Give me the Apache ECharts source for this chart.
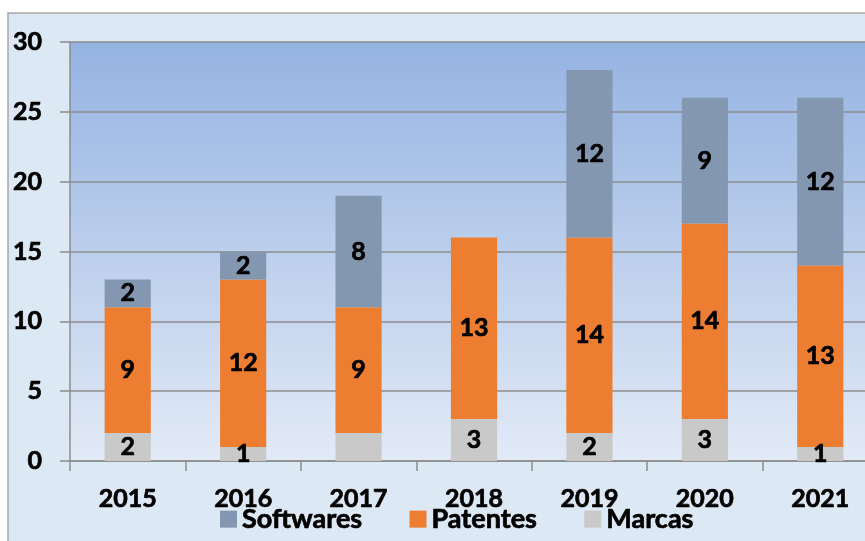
<!DOCTYPE html>
<html>
<head>
<meta charset="utf-8">
<script src="https://cdn.jsdelivr.net/npm/echarts@6/dist/echarts.min.js"></script>
<style>
html, body { margin: 0; padding: 0; background: #fff; overflow: hidden; }
#barChart { width: 880px; height: 541px; }
</style>
</head>
<body>
<div id="barChart"></div>
<script>
var barChart = echarts.init(document.getElementById('barChart'))

var anos = ['2015', '2016', '2017', '2018', '2019', '2020', '2021'],
    marcas = [2, 1, {value: 2, label: {show: false}}, 3, 2, 3, 1],
    patentes = [9, 12, 9, 13, 14, 14, 13],
    softwares = [2, 2, 8, 0, 12, 9, 12]

var fonte = 'Lato'

// texto em negrito mais pesado (contorno fino da mesma cor)
var negrito = {
    color: '#000',
    fontFamily: fonte,
    fontWeight: 'bold',
    textBorderColor: '#000',
    textBorderWidth: 0.7
}

var rotulo = Object.assign({
    show: true,
    position: 'inside',
    fontSize: 25,
    formatter: function (p) { return p.value ? p.value : '' }
}, negrito)

var option = {
    animation: false,
    backgroundColor: '#fff',
    textStyle: { fontFamily: fonte },
    graphic: [
        {
            type: 'rect',
            z: -10,
            shape: { x: 8, y: 13, width: 880, height: 560 },
            style: { fill: '#dde8f5', stroke: '#a6a6a6', lineWidth: 1.5 }
        }
    ],
    legend: {
        bottom: 3,
        left: 215,
        itemGap: 47,
        itemWidth: 17,
        itemHeight: 17,
        icon: 'rect',
        data: ['Softwares', 'Patentes', 'Marcas'],
        textStyle: Object.assign({ fontSize: 27 }, negrito)
    },
    grid: {
        left: 70,
        top: 42,
        width: 808,
        height: 419,
        show: true,
        borderWidth: 0,
        backgroundColor: new echarts.graphic.LinearGradient(0, 0, 0, 1, [
            { offset: 0, color: '#95b3e2' },
            { offset: 1, color: '#e2eaf6' }
        ])
    },
    xAxis: {
        type: 'category',
        data: anos,
        axisLine: { lineStyle: { color: '#8c8c8c', width: 1.5 } },
        axisTick: { show: true, length: 10, lineStyle: { color: '#8c8c8c', width: 1.5 } },
        axisLabel: Object.assign({ margin: 25, fontSize: 25 }, negrito)
    },
    yAxis: {
        type: 'value',
        min: 0,
        max: 30,
        interval: 5,
        axisLine: { show: true, lineStyle: { color: '#8c8c8c', width: 1.5 } },
        axisTick: { show: true, length: 10, lineStyle: { color: '#8c8c8c', width: 1.5 } },
        splitLine: { lineStyle: { color: '#8c8c8c', width: 1.5 } },
        axisLabel: Object.assign({ margin: 28, fontSize: 25 }, negrito)
    },
    series: [
        {
            name: 'Marcas',
            type: 'bar',
            stack: 'total',
            barWidth: '40%',
            itemStyle: { color: '#c9c9c9' },
            label: rotulo,
            data: marcas
        },
        {
            name: 'Patentes',
            type: 'bar',
            stack: 'total',
            itemStyle: { color: '#ed7d31' },
            label: rotulo,
            data: patentes
        },
        {
            name: 'Softwares',
            type: 'bar',
            stack: 'total',
            itemStyle: { color: '#8497b0' },
            label: rotulo,
            data: softwares
        }
    ]
}

barChart.setOption(option)
</script>
</body>
</html>
